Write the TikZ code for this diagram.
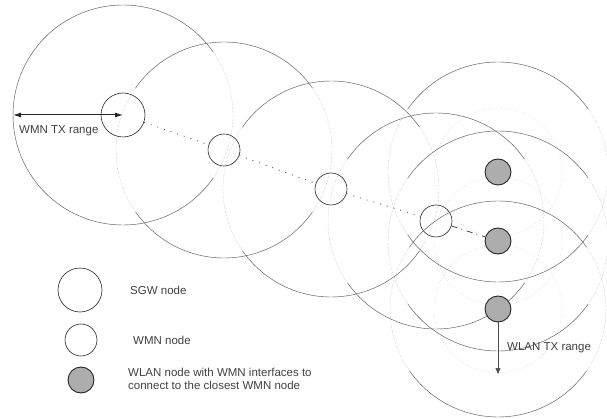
\documentclass[tikz,border=0pt]{standalone}
\usepackage{fontspec}
\setmainfont{Liberation Sans}
\usetikzlibrary{arrows.meta}
\newcommand\rangering[3]{%
  % #1 centre, #2 radius, #3 = 1 draws the left side solid as well
  \draw[faintline] (#1) circle[radius=#2];
  \draw[rangeline] ([shift={(35:#2)}]#1) arc[start angle=35, end angle=145, radius=#2];
  \draw[rangeline] ([shift={(215:#2)}]#1) arc[start angle=215, end angle=325, radius=#2];
  \ifnum#3=1 \draw[rangeline] ([shift={(145:#2)}]#1) arc[start angle=145, end angle=215, radius=#2];\fi
}
\begin{document}
\begin{tikzpicture}[x=1pt,y=-1pt,
  rangeline/.style={draw=black!60, line width=0.45pt},
  faintline/.style={draw=black!35, line width=0.4pt, densely dotted},
  wlanring/.style={draw=black!30, line width=0.4pt, dotted},
  sgwnode/.style={circle, draw=black!85, line width=0.6pt, minimum size=44pt, inner sep=0pt},
  wmnnode/.style={circle, draw=black!85, line width=0.6pt, minimum size=32pt, inner sep=0pt},
  wlannode/.style={circle, draw=black!85, line width=0.9pt, fill=black!32, minimum size=26pt, inner sep=0pt},
  meshlink/.style={draw=black!80, line width=0.7pt, dash pattern=on 1pt off 6pt},
  lastlink/.style={draw=black!80, line width=0.7pt, dash pattern=on 6pt off 4pt on 1pt off 5pt},
  lbl/.style={font=\fontsize{11.5}{14}\selectfont, text=black!75, inner sep=0pt, anchor=west, align=left}
]
\useasboundingbox (0,0) rectangle (607,419);

% mesh nodes
\node[sgwnode] (sgw) at (123,115) {};
\node[wmnnode] (w1) at (224,150) {};
\node[wmnnode] (w2) at (331,189) {};
\node[wmnnode] (w3) at (436,221) {};
\coordinate (l1c) at (498,172);
\coordinate (l2c) at (498,241);
\coordinate (l3c) at (498,309);

% WMN transmission ranges
\rangering{sgw.center}{110}{1}
\rangering{w1.center}{108}{0}
\rangering{w2.center}{108}{0}
\rangering{w3.center}{108}{0}
\rangering{l1c}{110}{0}
\rangering{l2c}{110}{0}
\rangering{l3c}{108}{0}

% WLAN transmission ranges
\draw[wlanring] (l1c) circle[radius=64];
\draw[wlanring] (l2c) circle[radius=64];
\draw[wlanring] (l3c) circle[radius=64];

% WLAN nodes
\node[wlannode] (l1) at (l1c) {};
\node[wlannode] (l2) at (l2c) {};
\node[wlannode] (l3) at (l3c) {};

% mesh links
\draw[meshlink] (sgw) -- (w1);
\draw[meshlink] (w1) -- (w2);
\draw[meshlink] (w2) -- (w3);
\draw[lastlink] (w3) -- (l2);

% range annotations
\coordinate (wmnedge) at (13,115);
\draw[black!85, line width=1pt, {Latex[length=8pt,width=5pt]}-{Latex[length=8pt,width=5pt]}] (wmnedge) -- (sgw.center);
\node[lbl] (wmntx) at (19,131) {WMN TX range};
\coordinate (wlanedge) at (498,374);
\draw[black!70, line width=0.6pt, -{Triangle[length=6pt,width=5pt]}] (l3) -- (wlanedge);
\node[lbl] (wlantx) at (507,348) {WLAN TX range};

% legend
\node[sgwnode] (legsgw) at (80,290) {};
\node[lbl] (legsgwt) at (130,290) {SGW node};
\node[wmnnode] (legwmn) at (81,340) {};
\node[lbl] (legwmnt) at (133,340) {WMN node};
\node[wlannode] (legwlan) at (81,380) {};
\node[lbl, font=\fontsize{11.5}{13.5}\selectfont] (legwlant) at (128,379) {WLAN node with WMN interfaces to\\connect to the closest WMN node};
\end{tikzpicture}
\end{document}
